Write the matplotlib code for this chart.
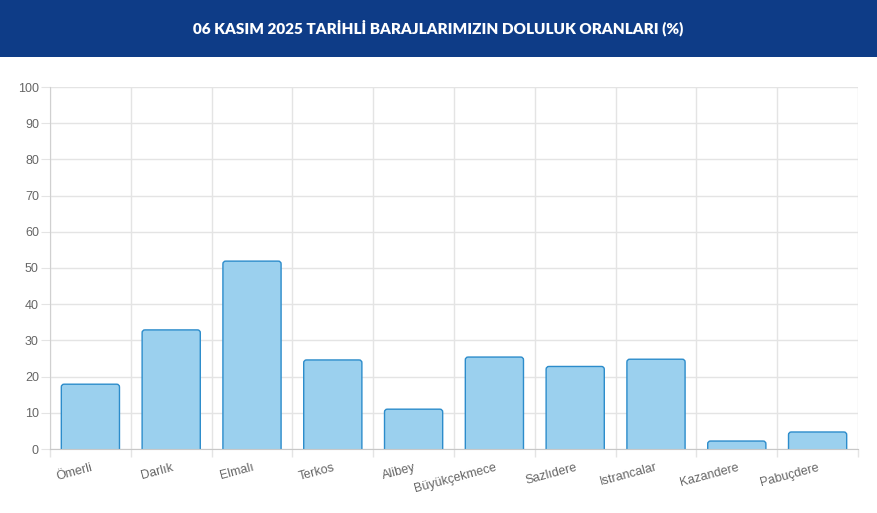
import matplotlib
matplotlib.use("Agg")
import matplotlib.pyplot as plt
from matplotlib.patches import FancyBboxPatch, Rectangle

categories = ["Ömerli", "Darlık", "Elmalı", "Terkos", "Alibey", "Büyükçekmece",
              "Sazlıdere", "Istrancalar", "Kazandere", "Pabuçdere"]
values = [17.9, 32.9, 51.9, 24.6, 11.0, 25.4, 22.8, 24.8, 2.2, 4.7]
yticks = list(range(0, 101, 10))
title = "06 KASIM 2025 TARİHLİ BARAJLARIMIZIN DOLULUK ORANLARI (%)"

W, H = 877, 513
fig = plt.figure(figsize=(W / 100, H / 100), dpi=100)
fig.patch.set_facecolor("white")

# header band
fig.patches.append(Rectangle((0, 1 - 57 / H), 1, 57 / H, transform=fig.transFigure,
                             facecolor="#0e3c87", edgecolor="none", zorder=0))
fig.text(0.5, 1 - 28 / H, title, color="white", ha="center", va="center",
         fontsize=11, fontweight="heavy", family=["Lato", "DejaVu Sans"])

left, right, top, bottom = 50, 858, 87, 449
ax = fig.add_axes([left / W, 1 - bottom / H, (right - left) / W, (bottom - top) / H])
n = len(categories)
ax.set_xlim(-0.5, n - 0.5)
ax.set_ylim(0, 100)

bw = 0.72
rx = 0.035
ppx_x = (right - left) / n
ppx_y = (bottom - top) / 100
aspect = ppx_x / ppx_y
for i, v in enumerate(values):
    r_y = rx * aspect
    p = FancyBboxPatch((i - bw / 2, -r_y * 2), bw, v + r_y * 2,
                       boxstyle=f"round,pad=0,rounding_size={rx}",
                       mutation_aspect=aspect,
                       facecolor="#9bd0ee", edgecolor="#2c8ccb", linewidth=1.0,
                       zorder=3, clip_on=True)
    ax.add_patch(p)

grid_c = "#e4e4e4"
ax.set_yticks(yticks)
ax.set_yticklabels([str(t) for t in yticks])
ax.set_xticks(range(n))
ax.set_xticklabels(categories, rotation=15, ha="right", rotation_mode="anchor")
ax.set_xticks([i - 0.5 for i in range(n + 1)], minor=True)
ax.tick_params(axis="x", which="major", length=0, pad=9, labelsize=9, labelcolor="#666666")
ax.tick_params(axis="x", which="minor", length=6, color=grid_c, width=1)
ax.tick_params(axis="y", length=6.5, color=grid_c, pad=1.5, labelsize=9, labelcolor="#666666")
for lab in ax.get_xticklabels() + ax.get_yticklabels():
    lab.set_family(["Liberation Sans", "DejaVu Sans"])

for t in yticks:
    ax.axhline(t, color=grid_c, lw=1, zorder=1)
for i in range(n + 1):
    ax.axvline(i - 0.5, color=grid_c, lw=1, zorder=1)

for s in ["top", "right"]:
    ax.spines[s].set_visible(False)
ax.spines["left"].set_color("#d0d0d0")
ax.spines["bottom"].set_color("#c8c8c8")
ax.spines["bottom"].set_zorder(4)

fig.savefig("out.png", dpi=100)
